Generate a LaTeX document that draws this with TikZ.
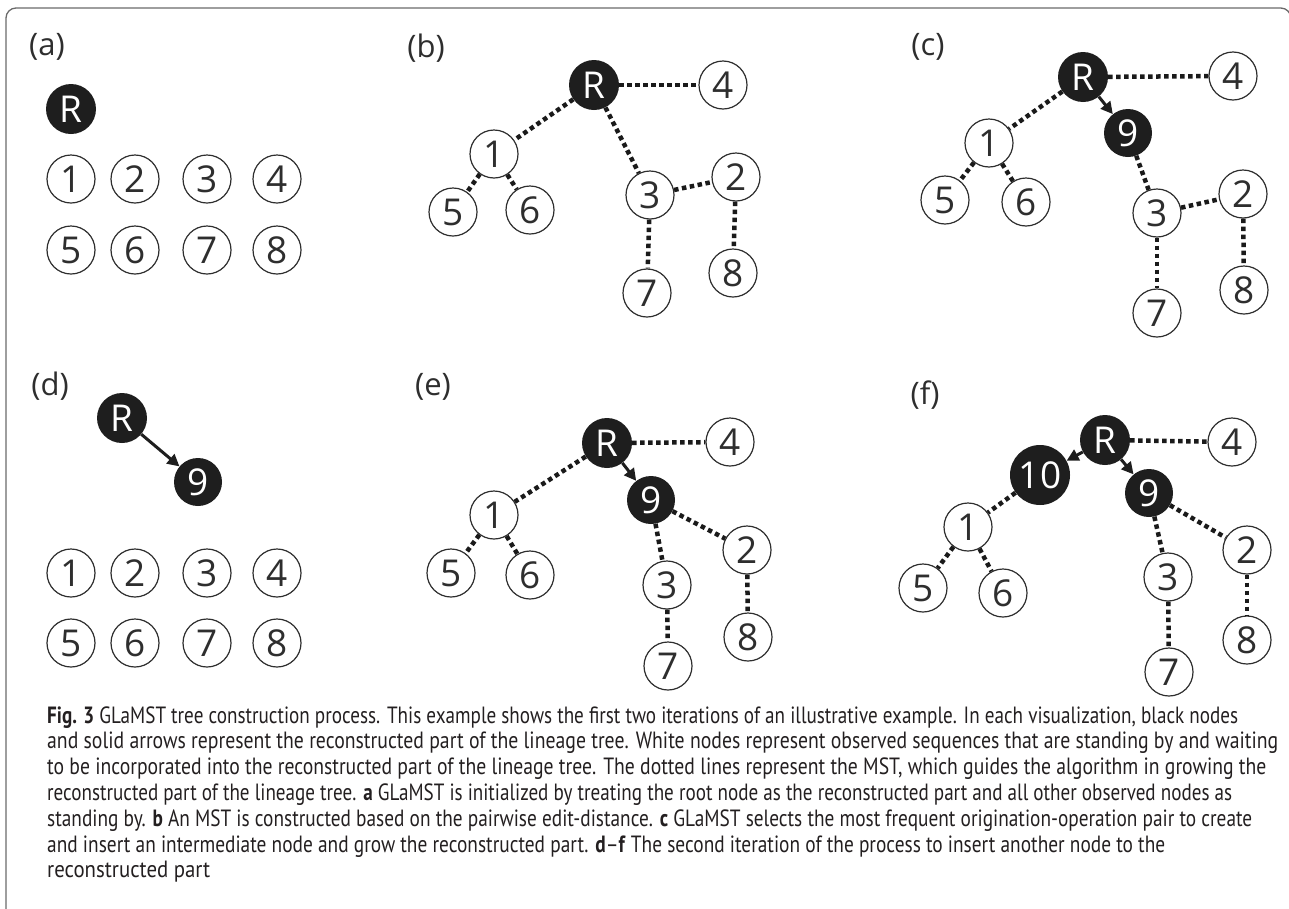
\documentclass[tikz,border=0pt]{standalone}
\usepackage{fontspec}
\setmainfont{PT Sans}
\newfontfamily\nodefont{Open Sans}
\usetikzlibrary{arrows.meta}
\definecolor{nodeblack}{HTML}{1E1E1E}
\definecolor{ringcol}{HTML}{2E2E2E}
\definecolor{dotcol}{HTML}{1A1A1A}
\definecolor{framecol}{HTML}{6A6A6A}
\definecolor{capcol}{HTML}{231F20}
\begin{document}
\begin{tikzpicture}[x=1pt,y=-1pt,
  wn/.style={circle, draw=ringcol, line width=1.2pt, fill=white, minimum size=48pt, inner sep=0pt, text=ringcol, font=\nodefont\fontsize{37}{40}\selectfont},
  bn/.style={circle, fill=nodeblack, text=white, minimum size=50pt, inner sep=0pt, font=\nodefont\fontsize{37}{40}\selectfont},
  mst/.style={draw=dotcol, line width=4.5pt, dash pattern=on 4.5pt off 3.5pt},
  arr/.style={draw=nodeblack, line width=3pt, -{Triangle[length=12pt,width=12pt]}},
  plabel/.style={inner sep=0pt, text=ringcol, font=\nodefont\fontsize{31}{34}\selectfont},
  captext/.style={anchor=base west, inner sep=0pt, text=capcol, font=\fontsize{23.5}{28}\selectfont}]
\useasboundingbox (0,0) rectangle (1289,908);
% frame
\draw[framecol, line width=1.3pt, rounded corners=10pt] (6,960) -- (6,8) -- (1290.8,8) -- (1290.8,960);

% ---------- (a)
\node[plabel] (la) at (47,47) {(a)};
\node[bn] (a-R) at (71,109) {R};
\node[wn] (a-1) at (71,179) {1};
\node[wn] (a-2) at (135,179) {2};
\node[wn] (a-3) at (207,179) {3};
\node[wn] (a-4) at (277,179) {4};
\node[wn] (a-5) at (71,250) {5};
\node[wn] (a-6) at (135,250) {6};
\node[wn] (a-7) at (207,250) {7};
\node[wn] (a-8) at (277,250) {8};

% ---------- (b)
\node[plabel] (lb) at (426,48) {(b)};
\node[bn] (b-R) at (594,85) {R};
\node[wn] (b-4) at (723,85) {4};
\node[wn] (b-1) at (494,154) {1};
\node[wn] (b-5) at (453,212) {5};
\node[wn] (b-6) at (530,210) {6};
\node[wn] (b-3) at (650,195) {3};
\node[wn] (b-2) at (736,177) {2};
\node[wn] (b-7) at (647,293) {7};
\node[wn] (b-8) at (733,273) {8};
\draw[mst] (b-R) -- (b-4);
\draw[mst] (b-R) -- (b-1);
\draw[mst] (b-R) -- (b-3);
\draw[mst] (b-1) -- (b-5);
\draw[mst] (b-1) -- (b-6);
\draw[mst] (b-3) -- (b-2);
\draw[mst] (b-3) -- (b-7);
\draw[mst] (b-2) -- (b-8);

% ---------- (c)
\node[plabel] (lc) at (928,47) {(c)};
\node[bn] (c-R) at (1083,77) {R};
\node[wn] (c-4) at (1233,76) {4};
\node[bn, minimum size=48pt] (c-9) at (1128,133) {9};
\node[wn] (c-1) at (989,143) {1};
\node[wn] (c-5) at (945,200) {5};
\node[wn] (c-6) at (1026,202) {6};
\node[wn] (c-3) at (1157,213) {3};
\node[wn] (c-2) at (1243,194) {2};
\node[wn] (c-7) at (1157,313) {7};
\node[wn] (c-8) at (1244,290) {8};
\draw[mst] (c-R) -- (c-4);
\draw[mst] (c-R) -- (c-1);
\draw[arr] (c-R) -- (c-9);
\draw[mst] (c-9) -- (c-3);
\draw[mst] (c-1) -- (c-5);
\draw[mst] (c-1) -- (c-6);
\draw[mst] (c-3) -- (c-2);
\draw[mst] (c-3) -- (c-7);
\draw[mst] (c-2) -- (c-8);

% ---------- (d)
\node[plabel] (ld) at (50,386) {(d)};
\node[bn] (d-R) at (122,418) {R};
\node[bn, minimum size=48pt] (d-9) at (198,482) {9};
\draw[arr] (d-R) -- (d-9);
\node[wn] (d-1) at (71,573) {1};
\node[wn] (d-2) at (135,573) {2};
\node[wn] (d-3) at (207,573) {3};
\node[wn] (d-4) at (277,573) {4};
\node[wn] (d-5) at (71,643) {5};
\node[wn] (d-6) at (135,643) {6};
\node[wn] (d-7) at (207,643) {7};
\node[wn] (d-8) at (277,643) {8};

% ---------- (e)
\node[plabel] (le) at (433,387) {(e)};
\node[bn] (e-R) at (607,443) {R};
\node[wn] (e-4) at (730,442) {4};
\node[bn, minimum size=48pt] (e-9) at (651,500) {9};
\node[wn] (e-1) at (494,515) {1};
\node[wn] (e-5) at (451,573) {5};
\node[wn] (e-6) at (530,575) {6};
\node[wn] (e-3) at (667,585) {3};
\node[wn] (e-2) at (747,550) {2};
\node[wn] (e-7) at (668,666) {7};
\node[wn] (e-8) at (748,637) {8};
\draw[mst] (e-R) -- (e-4);
\draw[mst] (e-R) -- (e-1);
\draw[arr] (e-R) -- (e-9);
\draw[mst] (e-9) -- (e-3);
\draw[mst] (e-9) -- (e-2);
\draw[mst] (e-1) -- (e-5);
\draw[mst] (e-1) -- (e-6);
\draw[mst] (e-3) -- (e-7);
\draw[mst] (e-2) -- (e-8);

% ---------- (f)
\node[plabel] (lf) at (925,395) {(f)};
\node[bn] (f-R) at (1105,440) {R};
\node[wn] (f-4) at (1232,442) {4};
\node[bn, minimum size=60pt] (f-10) at (1040,475) {10};
\node[bn, minimum size=48pt] (f-9) at (1149,493) {9};
\node[wn] (f-1) at (968,527) {1};
\node[wn] (f-5) at (923,588) {5};
\node[wn] (f-6) at (1003,593) {6};
\node[wn] (f-3) at (1168,577) {3};
\node[wn] (f-2) at (1247,550) {2};
\node[wn] (f-7) at (1169,672) {7};
\node[wn] (f-8) at (1247,640) {8};
\draw[mst] (f-R) -- (f-4);
\draw[arr] (f-R) -- (f-10);
\draw[arr] (f-R) -- (f-9);
\draw[mst] (f-10) -- (f-1);
\draw[mst] (f-9) -- (f-3);
\draw[mst] (f-9) -- (f-2);
\draw[mst] (f-1) -- (f-5);
\draw[mst] (f-1) -- (f-6);
\draw[mst] (f-3) -- (f-7);
\draw[mst] (f-2) -- (f-8);

% ---------- caption
\node[captext] (cap1) at (47,723) {\resizebox{1191pt}{\height}{\textbf{Fig. 3} GLaMST tree construction process. This example shows the first two iterations of an illustrative example. In each visualization, black nodes}};
\node[captext] (cap2) at (47,748.8) {\resizebox{1231pt}{\height}{and solid arrows represent the reconstructed part of the lineage tree. White nodes represent observed sequences that are standing by and waiting}};
\node[captext] (cap3) at (47,774.6) {\resizebox{1219pt}{\height}{to be incorporated into the reconstructed part of the lineage tree. The dotted lines represent the MST, which guides the algorithm in growing the}};
\node[captext] (cap4) at (47,800.4) {\resizebox{1185pt}{\height}{reconstructed part of the lineage tree. \textbf{a} GLaMST is initialized by treating the root node as the reconstructed part and all other observed nodes as}};
\node[captext] (cap5) at (47,826.2) {\resizebox{1205pt}{\height}{standing by. \textbf{b} An MST is constructed based on the pairwise edit-distance. \textbf{c} GLaMST selects the most frequent origination-operation pair to create}};
\node[captext] (cap6) at (47,852) {\resizebox{1118pt}{\height}{and insert an intermediate node and grow the reconstructed part. \textbf{d}--\textbf{f} The second iteration of the process to insert another node to the}};
\node[captext] (cap7) at (47,877.8) {\resizebox{163pt}{\height}{reconstructed part}};
\end{tikzpicture}
\end{document}
